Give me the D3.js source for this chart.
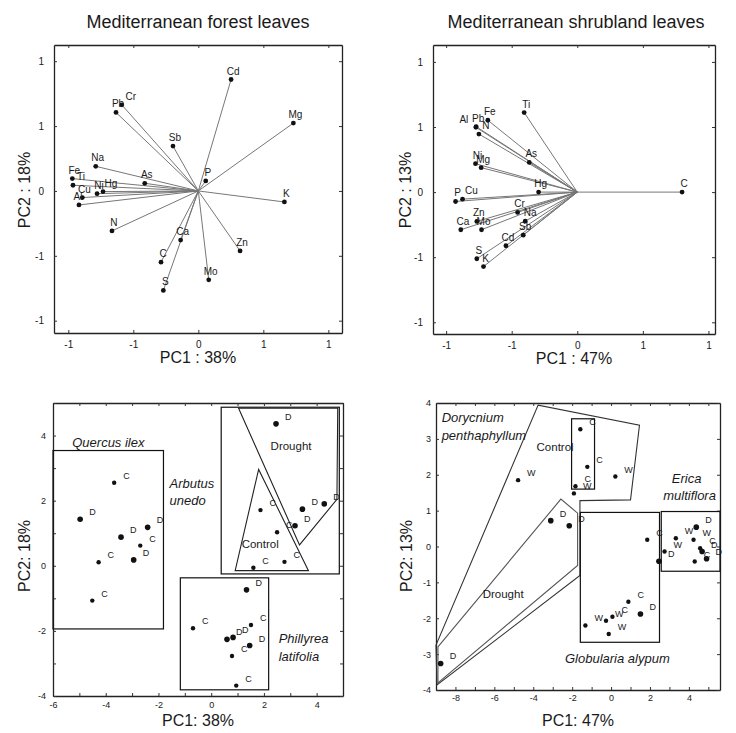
<!DOCTYPE html>
<meta charset="utf-8">
<style>
body { margin: 0; background: #fff; }
text { font-family: "Liberation Sans", Arial, sans-serif; fill: #1a1a1a; }
</style>
<body>
<script src="https://d3js.org/d3.v7.min.js"></script>
<script>

var width = 736,
    height = 733;

var svg = d3.select("body").append("svg")
    .attr("width", width)
    .attr("height", height);

// ---------- data ----------
var titles = ["Mediterranean forest leaves", "Mediterranean shrubland leaves"];

// loadings, forest (PC1 38%, PC2 18%)
var forestLoadings = [
  {el: "Cd", pc1: 0.252, pc2: 0.859},
  {el: "Cr", pc1: -0.589, pc2: 0.664},
  {el: "Pb", pc1: -0.633, pc2: 0.605},
  {el: "Mg", pc1: 0.731, pc2: 0.523},
  {el: "Sb", pc1: -0.195, pc2: 0.346},
  {el: "Na", pc1: -0.789, pc2: 0.190},
  {el: "P",  pc1: 0.057, pc2: 0.077},
  {el: "As", pc1: -0.412, pc2: 0.059},
  {el: "Fe", pc1: -0.969, pc2: 0.095},
  {el: "Ti", pc1: -0.964, pc2: 0.044},
  {el: "Ni", pc1: -0.779, pc2: -0.021},
  {el: "Hg", pc1: -0.733, pc2: -0.005},
  {el: "Cu", pc1: -0.892, pc2: -0.051},
  {el: "Al", pc1: -0.918, pc2: -0.108},
  {el: "K",  pc1: 0.662, pc2: -0.085},
  {el: "N",  pc1: -0.664, pc2: -0.308},
  {el: "Ca", pc1: -0.136, pc2: -0.379},
  {el: "Zn", pc1: 0.321, pc2: -0.462},
  {el: "C",  pc1: -0.287, pc2: -0.549},
  {el: "Mo", pc1: 0.080, pc2: -0.685},
  {el: "S",  pc1: -0.269, pc2: -0.767}
];

// loadings, shrubland (PC1 47%, PC2 13%)
var shrubLoadings = [
  {el: "Ti", pc1: -0.405, pc2: 0.611},
  {el: "Fe", pc1: -0.682, pc2: 0.552},
  {el: "Pb", pc1: -0.771, pc2: 0.503},
  {el: "Al", pc1: -0.773, pc2: 0.498},
  {el: "N",  pc1: -0.750, pc2: 0.446},
  {el: "Ni", pc1: -0.776, pc2: 0.218},
  {el: "Mg", pc1: -0.733, pc2: 0.188},
  {el: "As", pc1: -0.366, pc2: 0.228},
  {el: "Hg", pc1: -0.295, pc2: 0.000},
  {el: "P",  pc1: -0.928, pc2: -0.072},
  {el: "Cu", pc1: -0.875, pc2: -0.054},
  {el: "Cr", pc1: -0.455, pc2: -0.156},
  {el: "Na", pc1: -0.397, pc2: -0.223},
  {el: "Zn", pc1: -0.766, pc2: -0.225},
  {el: "Mo", pc1: -0.730, pc2: -0.289},
  {el: "Ca", pc1: -0.888, pc2: -0.289},
  {el: "Sb", pc1: -0.412, pc2: -0.331},
  {el: "Cd", pc1: -0.544, pc2: -0.412},
  {el: "S",  pc1: -0.766, pc2: -0.512},
  {el: "K",  pc1: -0.715, pc2: -0.572},
  {el: "C",  pc1: 0.799, pc2: 0.000}
];

// scores, forest species (C = control, D = drought)
var forestScores = [
  {sp: "Quercus ilex", t: "C", pc1: -3.68, pc2: 2.55},
  {sp: "Quercus ilex", t: "D", pc1: -4.97, pc2: 1.43},
  {sp: "Quercus ilex", t: "D", pc1: -3.42, pc2: 0.88},
  {sp: "Quercus ilex", t: "D", pc1: -2.41, pc2: 1.18},
  {sp: "Quercus ilex", t: "C", pc1: -2.69, pc2: 0.62},
  {sp: "Quercus ilex", t: "D", pc1: -2.94, pc2: 0.18},
  {sp: "Quercus ilex", t: "C", pc1: -4.27, pc2: 0.11},
  {sp: "Quercus ilex", t: "C", pc1: -4.51, pc2: -1.07},
  {sp: "Arbutus unedo", t: "D", pc1: 2.46, pc2: 4.36},
  {sp: "Arbutus unedo", t: "D", pc1: 3.46, pc2: 1.74},
  {sp: "Arbutus unedo", t: "D", pc1: 4.29, pc2: 1.90},
  {sp: "Arbutus unedo", t: "D", pc1: 3.18, pc2: 1.23},
  {sp: "Arbutus unedo", t: "C", pc1: 1.87, pc2: 1.71},
  {sp: "Arbutus unedo", t: "C", pc1: 2.50, pc2: 1.03},
  {sp: "Arbutus unedo", t: "C", pc1: 2.78, pc2: 0.12},
  {sp: "Arbutus unedo", t: "C", pc1: 1.60, pc2: -0.06},
  {sp: "Phillyrea latifolia", t: "D", pc1: 1.34, pc2: -0.74},
  {sp: "Phillyrea latifolia", t: "D", pc1: 0.83, pc2: -2.20},
  {sp: "Phillyrea latifolia", t: "D", pc1: 0.60, pc2: -2.26},
  {sp: "Phillyrea latifolia", t: "D", pc1: 1.46, pc2: -2.45},
  {sp: "Phillyrea latifolia", t: "C", pc1: -0.69, pc2: -1.92},
  {sp: "Phillyrea latifolia", t: "C", pc1: 1.51, pc2: -1.82},
  {sp: "Phillyrea latifolia", t: "C", pc1: 0.79, pc2: -2.77},
  {sp: "Phillyrea latifolia", t: "C", pc1: 0.95, pc2: -3.68}
];

// scores, shrubland species (C = control, D = drought, W = warming)
var shrubScores = [
  {sp: "Dorycnium penthaphyllum", t: "W", pc1: -4.78, pc2: 1.85},
  {sp: "Dorycnium penthaphyllum", t: "C", pc1: -1.58, pc2: 3.27},
  {sp: "Dorycnium penthaphyllum", t: "C", pc1: -1.22, pc2: 2.22},
  {sp: "Dorycnium penthaphyllum", t: "C", pc1: -1.83, pc2: 1.68},
  {sp: "Dorycnium penthaphyllum", t: "W", pc1: 0.22, pc2: 1.95},
  {sp: "Dorycnium penthaphyllum", t: "W", pc1: -1.91, pc2: 1.48},
  {sp: "Dorycnium penthaphyllum", t: "D", pc1: -3.10, pc2: 0.72},
  {sp: "Dorycnium penthaphyllum", t: "D", pc1: -2.15, pc2: 0.58},
  {sp: "Dorycnium penthaphyllum", t: "D", pc1: -8.76, pc2: -3.26},
  {sp: "Globularia alypum", t: "C", pc1: 1.86, pc2: 0.19},
  {sp: "Globularia alypum", t: "D", pc1: 2.46, pc2: -0.41},
  {sp: "Globularia alypum", t: "C", pc1: 0.89, pc2: -1.54},
  {sp: "Globularia alypum", t: "D", pc1: 1.51, pc2: -1.88},
  {sp: "Globularia alypum", t: "C", pc1: 0.07, pc2: -1.96},
  {sp: "Globularia alypum", t: "W", pc1: -0.26, pc2: -2.07},
  {sp: "Globularia alypum", t: "W", pc1: -1.32, pc2: -2.20},
  {sp: "Globularia alypum", t: "W", pc1: -0.12, pc2: -2.44},
  {sp: "Erica multiflora", t: "W", pc1: 2.75, pc2: -0.14},
  {sp: "Erica multiflora", t: "W", pc1: 3.33, pc2: 0.23},
  {sp: "Erica multiflora", t: "D", pc1: 4.38, pc2: 0.54},
  {sp: "Erica multiflora", t: "W", pc1: 4.24, pc2: 0.19},
  {sp: "Erica multiflora", t: "C", pc1: 4.58, pc2: -0.05},
  {sp: "Erica multiflora", t: "D", pc1: 4.68, pc2: -0.14},
  {sp: "Erica multiflora", t: "D", pc1: 4.91, pc2: -0.34},
  {sp: "Erica multiflora", t: "C", pc1: 4.30, pc2: -0.42}
];

// group outlines, in score units
var forestBoxes = [
  {name: "Quercus ilex", x0: -6, x1: -1.81, y0: -1.94, y1: 3.54},
  {name: "Arbutus unedo", x0: 0.38, x1: 4.86, y0: -0.25, y1: 4.87},
  {name: "Phillyrea latifolia", x0: -1.17, x1: 2.18, y0: -3.81, y1: -0.37}
];
var arbutusDrought = [[1.04, 4.84], [3.35, 0.64], [4.77, 2.04], [4.80, 4.84]];
var arbutusControl = [[1.80, 2.96], [0.91, -0.15], [3.69, -0.15]];

var shrubBoxes = [
  {name: "Globularia alypum", x0: -1.58, x1: 2.49, y0: -2.67, y1: 0.95},
  {name: "Erica multiflora", x0: 2.58, x1: 5.6, y0: -0.69, y1: 0.975},
  {name: "Dorycnium control", x0: -2.03, x1: -0.85, y0: 1.60, y1: 3.56}
];
var doryOuter = [[-9.0, -2.75], [-3.75, 3.94], [1.46, 3.38], [1.00, 1.30],
                 [-1.60, 1.28], [-1.60, -0.81], [-8.95, -3.86]];
var doryDrought = [[-8.9, -2.80], [-2.58, 1.32], [-1.72, 0.93], [-1.72, -0.53], [-8.9, -3.80]];

// annotation texts, in score units
var forestNotes = [
  {txt: "Quercus ilex", x: -3.9, y: 3.66, it: true, anchor: "middle"},
  {txt: "Arbutus", x: -1.58, y: 2.4, it: true, anchor: "start"},
  {txt: "unedo", x: -1.58, y: 1.88, it: true, anchor: "start"},
  {txt: "Phillyrea", x: 2.56, y: -2.37, it: true, anchor: "start"},
  {txt: "latifolia", x: 2.56, y: -2.93, it: true, anchor: "start"},
  {txt: "Drought", x: 3.03, y: 3.55, it: false, anchor: "middle"},
  {txt: "Control", x: 1.86, y: 0.55, it: false, anchor: "middle"}
];
var shrubNotes = [
  {txt: "Dorycnium", x: -8.71, y: 3.48, it: true, anchor: "start"},
  {txt: "penthaphyllum", x: -8.71, y: 2.98, it: true, anchor: "start"},
  {txt: "Control", x: -3.83, y: 2.65, it: false, anchor: "start"},
  {txt: "Drought", x: -6.6, y: -1.43, it: false, anchor: "start"},
  {txt: "Erica", x: 3.12, y: 1.78, it: true, anchor: "start"},
  {txt: "multiflora", x: 2.68, y: 1.31, it: true, anchor: "start"},
  {txt: "Globularia alypum", x: -2.37, y: -3.25, it: true, anchor: "start"}
];

// tick values and their printed labels
var loadTicks = [-1, -0.5, 0, 0.5, 1];
var loadTickLabels = ["-1", "-1", "0", "1", "1"];
var forestXTicks = [-6, -4, -2, 0, 2, 4];
var forestYTicks = [-4, -2, 0, 2, 4];
var shrubXTicks = [-8, -6, -4, -2, 0, 2, 4];
var shrubYTicks = [-4, -3, -2, -1, 0, 1, 2, 3, 4];

// label nudges (px) for crowded loading labels
var forestNudge = {Cr: [7, 0], Ti: [6, 0], Hg: [6, 0], Al: [-3, 0]};
var shrubNudge = {N: [5, 0], Al: [-14, 1], Cu: [7, 0], Na: [3, 0]};

// ---------- helpers ----------
function panel(o) {
  var x = d3.scaleLinear().domain(o.xDomain).range([o.left, o.right]);
  var y = d3.scaleLinear().domain(o.yDomain).range([o.bottom, o.top]);
  var g = svg.append("g");

  var lab = function(ticks, labels) {
    return function(d) {
      var i = ticks.indexOf(d);
      return i >= 0 ? labels[i] : "";
    };
  };

  var ax = [
    {a: d3.axisBottom(x), t: "translate(0," + o.bottom + ")", v: o.xMarks, f: lab(o.xTicks, o.xLabels), p: o.padX},
    {a: d3.axisTop(x), t: "translate(0," + o.top + ")", v: o.xMarks, f: function() { return ""; }, p: 3},
    {a: d3.axisLeft(y), t: "translate(" + o.left + ",0)", v: o.yMarks, f: lab(o.yTicks, o.yLabels), p: o.padY},
    {a: d3.axisRight(y), t: "translate(" + o.right + ",0)", v: o.yMarks, f: function() { return ""; }, p: 3}
  ];
  ax.forEach(function(s) {
    var ga = g.append("g").attr("transform", s.t)
        .call(s.a.tickValues(s.v).tickSize(-3).tickPadding(s.p).tickFormat(s.f).tickSizeOuter(0));
    ga.select(".domain").attr("stroke", "#222").attr("stroke-width", 1.3);
    ga.selectAll(".tick line").attr("stroke", "#333");
    ga.selectAll("text").attr("font-size", o.tickFont).attr("fill", "#222")
        .style("font-family", "'Liberation Sans', Arial, sans-serif");
  });

  g.append("text").attr("x", (o.left + o.right) / 2).attr("y", o.xTitleY)
      .attr("text-anchor", "middle").attr("font-size", 16).attr("fill", "#333")
      .text(o.xTitle);
  g.append("text").attr("transform", "translate(" + o.yTitleX + "," + o.yTitleCY + ") rotate(-90)")
      .attr("text-anchor", "middle").attr("dy", "0.35em").attr("font-size", 16).attr("fill", "#333")
      .text(o.yTitle);
  return {x: x, y: y, g: g};
}

function loadingPlot(p, data, nudge) {
  p.g.selectAll("line.load").data(data).enter().append("line")
      .attr("class", "load")
      .attr("x1", p.x(0)).attr("y1", p.y(0))
      .attr("x2", function(d) { return p.x(d.pc1); })
      .attr("y2", function(d) { return p.y(d.pc2); })
      .attr("stroke", "#777").attr("stroke-width", 1);
  p.g.selectAll("circle.load").data(data).enter().append("circle")
      .attr("cx", function(d) { return p.x(d.pc1); })
      .attr("cy", function(d) { return p.y(d.pc2); })
      .attr("r", 2.4).attr("fill", "#111");
  p.g.selectAll("text.load").data(data).enter().append("text")
      .attr("x", function(d) { return p.x(d.pc1) + 2 + (nudge[d.el] ? nudge[d.el][0] : 0); })
      .attr("y", function(d) { return p.y(d.pc2) - 5 + (nudge[d.el] ? nudge[d.el][1] : 0); })
      .attr("text-anchor", "middle").attr("font-size", 10).attr("fill", "#111")
      .text(function(d) { return d.el; });
}

function scorePlot(p, data) {
  p.g.selectAll("circle.score").data(data).enter().append("circle")
      .attr("cx", function(d) { return p.x(d.pc1); })
      .attr("cy", function(d) { return p.y(d.pc2); })
      .attr("r", function(d) { return d.t === "D" ? 2.8 : 2.2; })
      .attr("fill", "#111");
  p.g.selectAll("text.score").data(data).enter().append("text")
      .attr("x", function(d) { return p.x(d.pc1) + 9; })
      .attr("y", function(d) { return p.y(d.pc2) - 4; })
      .attr("font-size", 9).attr("fill", "#111")
      .text(function(d) { return d.t; });
}

function boxes(p, data) {
  p.g.selectAll("rect.grp").data(data).enter().append("rect")
      .attr("x", function(d) { return p.x(d.x0); })
      .attr("y", function(d) { return p.y(d.y1); })
      .attr("width", function(d) { return p.x(d.x1) - p.x(d.x0); })
      .attr("height", function(d) { return p.y(d.y0) - p.y(d.y1); })
      .attr("fill", "none").attr("stroke", "#111").attr("stroke-width", 1.2);
}

function polygon(p, pts, col) {
  var line = d3.line().x(function(d) { return p.x(d[0]); }).y(function(d) { return p.y(d[1]); });
  p.g.append("path").attr("d", line(pts) + "Z")
      .attr("fill", "none").attr("stroke", col).attr("stroke-width", 1.1);
}

function notes(p, data) {
  p.g.selectAll("text.note").data(data).enter().append("text")
      .attr("x", function(d) { return p.x(d.x); })
      .attr("y", function(d) { return p.y(d.y); })
      .attr("text-anchor", function(d) { return d.anchor; })
      .attr("font-size", function(d) { return d.it ? 13 : 11.5; })
      .attr("font-style", function(d) { return d.it ? "italic" : "normal"; })
      .attr("fill", "#222")
      .text(function(d) { return d.txt; });
}

// ---------- titles ----------
svg.selectAll("text.title").data(titles).enter().append("text")
    .attr("x", function(d, i) { return i === 0 ? 198 : 576; })
    .attr("y", 28)
    .attr("text-anchor", "middle").attr("font-size", 18).attr("fill", "#111")
    .text(function(d) { return d; });

// ---------- panel 1: forest loadings ----------
var p1 = panel({
  left: 54, right: 342, top: 45, bottom: 333,
  xDomain: [-1.11, 1.105], yDomain: [-1.095, 1.125],
  xMarks: loadTicks, xTicks: loadTicks, xLabels: loadTickLabels,
  yMarks: loadTicks, yTicks: loadTicks, yLabels: loadTickLabels,
  padX: 8, padY: 10, tickFont: 10,
  xTitle: "PC1 : 38%", xTitleY: 363, yTitle: "PC2 : 18%", yTitleX: 24, yTitleCY: 190
});
loadingPlot(p1, forestLoadings, forestNudge);

// ---------- panel 2: shrubland loadings ----------
var p2 = panel({
  left: 433, right: 715, top: 45, bottom: 334,
  xDomain: [-1.10, 1.05], yDomain: [-1.09, 1.13],
  xMarks: loadTicks, xTicks: loadTicks, xLabels: loadTickLabels,
  yMarks: loadTicks, yTicks: loadTicks, yLabels: loadTickLabels,
  padX: 8, padY: 10, tickFont: 10,
  xTitle: "PC1 : 47%", xTitleY: 364, yTitle: "PC2 : 13%", yTitleX: 405, yTitleCY: 190
});
loadingPlot(p2, shrubLoadings, shrubNudge);

// ---------- panel 3: forest scores ----------
var p3 = panel({
  left: 53, right: 343, top: 403, bottom: 696,
  xDomain: [-6, 5], yDomain: [-4, 5],
  xMarks: d3.range(-6, 6), xTicks: forestXTicks, xLabels: forestXTicks.map(String),
  yMarks: d3.range(-4, 6), yTicks: forestYTicks, yLabels: forestYTicks.map(String),
  padX: 6, padY: 7, tickFont: 9,
  xTitle: "PC1: 38%", xTitleY: 726, yTitle: "PC2: 18%", yTitleX: 24, yTitleCY: 556
});
boxes(p3, forestBoxes);
polygon(p3, arbutusDrought, "#222");
polygon(p3, arbutusControl, "#222");
scorePlot(p3, forestScores);
notes(p3, forestNotes);

// ---------- panel 4: shrubland scores ----------
var p4 = panel({
  left: 436, right: 720, top: 403, bottom: 690,
  xDomain: [-9, 5.6], yDomain: [-4, 4],
  xMarks: d3.range(-9, 6), xTicks: shrubXTicks, xLabels: shrubXTicks.map(String),
  yMarks: shrubYTicks, yTicks: shrubYTicks, yLabels: shrubYTicks.map(String),
  padX: 5, padY: 5, tickFont: 9,
  xTitle: "PC1: 47%", xTitleY: 726, yTitle: "PC2: 13%", yTitleX: 406, yTitleCY: 556
});
polygon(p4, doryOuter, "#333");
polygon(p4, doryDrought, "#555");
boxes(p4, shrubBoxes);
scorePlot(p4, shrubScores);
notes(p4, shrubNotes);

</script>
